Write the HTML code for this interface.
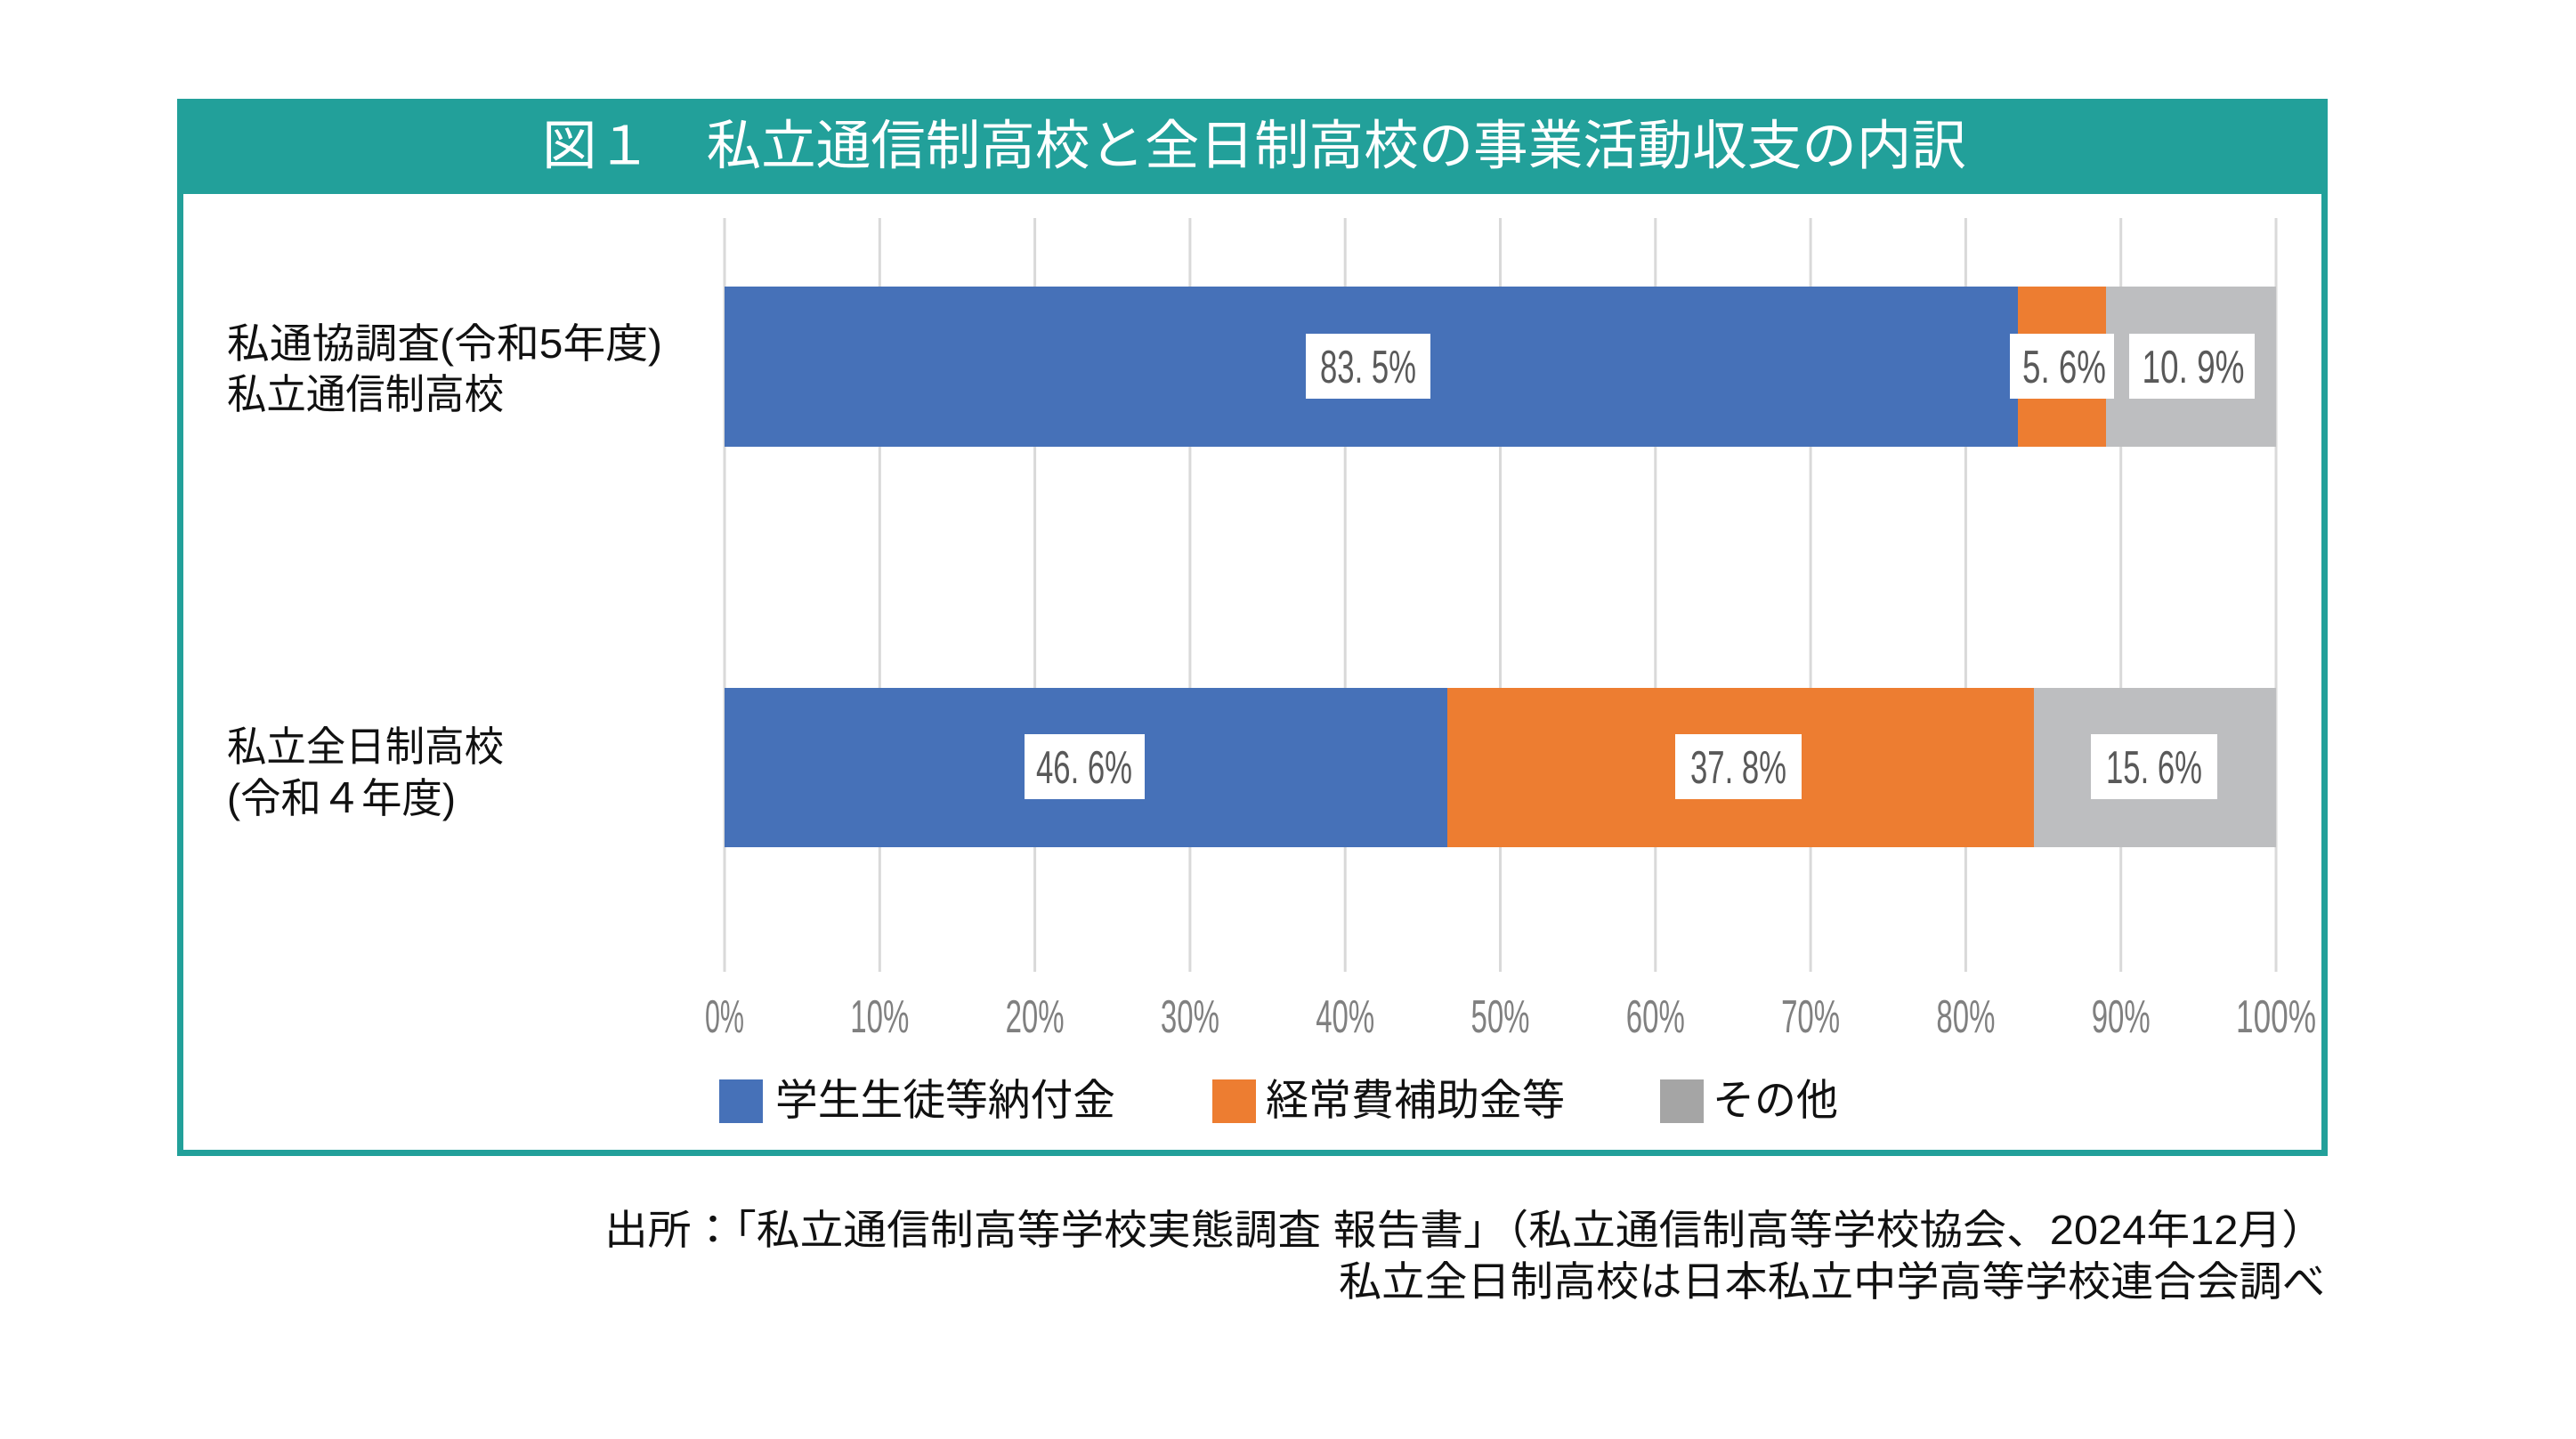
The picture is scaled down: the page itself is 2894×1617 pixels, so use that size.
<!DOCTYPE html>
<html><head><meta charset="utf-8"><style>
html,body{margin:0;padding:0;background:#fff;}
svg{display:block;}
text{font-family:"Liberation Sans","Noto Sans CJK JP",sans-serif;}
</style></head><body>
<svg width="2894" height="1617" viewBox="0 0 2894 1617" xmlns="http://www.w3.org/2000/svg">
<rect x="0" y="0" width="2894" height="1617" fill="#fff"/>
<rect x="202.5" y="114.5" width="2409" height="1181" fill="#fff" stroke="#22A09A" stroke-width="7"/>
<rect x="199" y="111" width="2416" height="107" fill="#22A09A"/>
<text x="609" y="164" dominant-baseline="central" font-size="60" fill="#fff" textLength="1600" lengthAdjust="spacingAndGlyphs">図１　私立通信制高校と全日制高校の事業活動収支の内訳</text>
<g stroke="#D9D9D9" stroke-width="3">
<line x1="814" y1="245" x2="814" y2="1092"/>
<line x1="988.3" y1="245" x2="988.3" y2="1092"/>
<line x1="1162.6" y1="245" x2="1162.6" y2="1092"/>
<line x1="1336.9" y1="245" x2="1336.9" y2="1092"/>
<line x1="1511.2" y1="245" x2="1511.2" y2="1092"/>
<line x1="1685.5" y1="245" x2="1685.5" y2="1092"/>
<line x1="1859.8" y1="245" x2="1859.8" y2="1092"/>
<line x1="2034.1" y1="245" x2="2034.1" y2="1092"/>
<line x1="2208.4" y1="245" x2="2208.4" y2="1092"/>
<line x1="2382.7" y1="245" x2="2382.7" y2="1092"/>
<line x1="2557" y1="245" x2="2557" y2="1092"/>
</g>
<rect x="814" y="322" width="1453" height="180" fill="#4671B8"/>
<rect x="2267" y="322" width="99" height="180" fill="#ED7D31"/>
<rect x="2366" y="322" width="191" height="180" fill="#BDBEC0"/>
<rect x="814" y="773" width="812" height="179" fill="#4671B8"/>
<rect x="1626" y="773" width="659" height="179" fill="#ED7D31"/>
<rect x="2285" y="773" width="272" height="179" fill="#BDBEC0"/>
<g fill="#fff">
<rect x="1467" y="375" width="140" height="73"/>
<rect x="2258" y="375" width="117" height="73"/>
<rect x="2392" y="375" width="141" height="73"/>
<rect x="1151" y="825" width="135" height="73"/>
<rect x="1882" y="825" width="142" height="73"/>
<rect x="2349" y="825" width="142" height="73"/>
</g>
<g fill="#595959" font-size="52" text-anchor="middle" dominant-baseline="central">
<text x="1537" y="413" textLength="108" lengthAdjust="spacingAndGlyphs">83. 5%</text>
<text x="2319" y="413" textLength="94" lengthAdjust="spacingAndGlyphs">5. 6%</text>
<text x="2464" y="413" textLength="115" lengthAdjust="spacingAndGlyphs">10. 9%</text>
<text x="1218" y="863" textLength="108" lengthAdjust="spacingAndGlyphs">46. 6%</text>
<text x="1953" y="863" textLength="108" lengthAdjust="spacingAndGlyphs">37. 8%</text>
<text x="2420" y="863" textLength="108" lengthAdjust="spacingAndGlyphs">15. 6%</text>
</g>
<g fill="#808080" font-size="52" text-anchor="middle" dominant-baseline="central">
<text x="814" y="1143" textLength="44" lengthAdjust="spacingAndGlyphs">0%</text>
<text x="988.3" y="1143" textLength="66" lengthAdjust="spacingAndGlyphs">10%</text>
<text x="1162.6" y="1143" textLength="66" lengthAdjust="spacingAndGlyphs">20%</text>
<text x="1336.9" y="1143" textLength="66" lengthAdjust="spacingAndGlyphs">30%</text>
<text x="1511.2" y="1143" textLength="66" lengthAdjust="spacingAndGlyphs">40%</text>
<text x="1685.5" y="1143" textLength="66" lengthAdjust="spacingAndGlyphs">50%</text>
<text x="1859.8" y="1143" textLength="66" lengthAdjust="spacingAndGlyphs">60%</text>
<text x="2034.1" y="1143" textLength="66" lengthAdjust="spacingAndGlyphs">70%</text>
<text x="2208.4" y="1143" textLength="66" lengthAdjust="spacingAndGlyphs">80%</text>
<text x="2382.7" y="1143" textLength="66" lengthAdjust="spacingAndGlyphs">90%</text>
<text x="2557" y="1143" textLength="90" lengthAdjust="spacingAndGlyphs">100%</text>
</g>
<g fill="#111" font-size="46" dominant-baseline="central">
<text x="255" y="386" textLength="489" lengthAdjust="spacingAndGlyphs">私通協調査(令和5年度)</text>
<text x="255" y="443" textLength="311" lengthAdjust="spacingAndGlyphs">私立通信制高校</text>
<text x="255" y="839" textLength="311" lengthAdjust="spacingAndGlyphs">私立全日制高校</text>
<text x="255" y="897" textLength="257" lengthAdjust="spacingAndGlyphs">(令和４年度)</text>
</g>
<rect x="808" y="1213" width="49" height="49" fill="#4671B8"/>
<rect x="1362" y="1213" width="49" height="49" fill="#ED7D31"/>
<rect x="1865" y="1213" width="49" height="49" fill="#A5A5A5"/>
<g fill="#111" font-size="48" dominant-baseline="central">
<text x="871" y="1237" textLength="382" lengthAdjust="spacingAndGlyphs">学生生徒等納付金</text>
<text x="1422" y="1237" textLength="336" lengthAdjust="spacingAndGlyphs">経常費補助金等</text>
<text x="1924" y="1237" textLength="141" lengthAdjust="spacingAndGlyphs">その他</text>
</g>
<g fill="#111" font-size="46" dominant-baseline="central">
<text x="679" y="1382" textLength="1933" lengthAdjust="spacingAndGlyphs">出所：「私立通信制高等学校実態調査 報告書」（私立通信制高等学校協会、2024年12月）</text>
<text x="1504" y="1440" textLength="1108" lengthAdjust="spacingAndGlyphs">私立全日制高校は日本私立中学高等学校連合会調べ</text>
</g>
</svg>
</body></html>
